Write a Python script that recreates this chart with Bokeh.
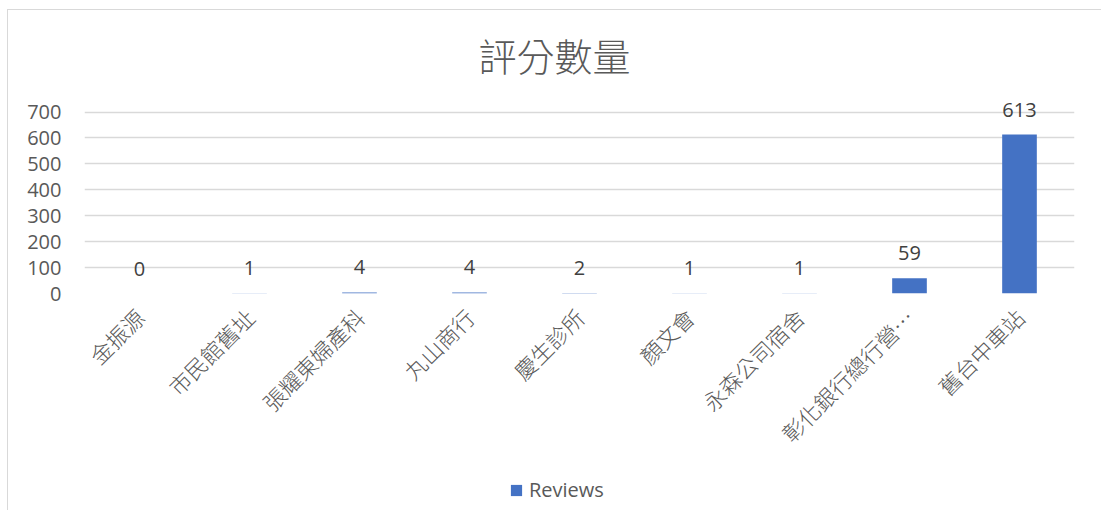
import math
from bokeh.plotting import figure
from bokeh.layouts import column
from bokeh.models import ColumnDataSource, FixedTicker, Legend, LegendItem, Range1d
from bokeh.core.properties import value
from bokeh.embed import file_html
from bokeh.resources import INLINE

categories = ["金振源", "市民館舊址", "張耀東婦產科", "丸山商行", "慶生診所",
              "顏文會", "永森公司宿舍", "彰化銀行總行營…", "舊台中車站"]
reviews = [0, 1, 4, 4, 2, 1, 1, 59, 613]
y_ticks = [0, 100, 200, 300, 400, 500, 600, 700]
series_name = "Reviews"
title_text = "評分數量"

CJK_LIGHT = "Noto Sans CJK TC Light, Noto Sans CJK TC, sans-serif"
BAR_COLOR = "#4472C4"

src = ColumnDataSource(dict(cat=categories, val=reviews, lbl=[str(v) for v in reviews]))

p = figure(x_range=categories, y_range=Range1d(0, 760), width=1093, height=460,
           output_backend="svg", toolbar_location=None,
           min_border_left=76, min_border_right=27, min_border_top=85, min_border_bottom=177)
p.outline_line_color = None
p.background_fill_color = "white"
p.border_fill_color = "white"

p.title.text = title_text
p.title.align = "left"
p.title.offset = 394
p.title.text_font = CJK_LIGHT
p.title.text_font_size = "38px"
p.title.text_font_style = "normal"
p.title.text_color = "#595959"
p.title.standoff = 29

bars = p.vbar(x="cat", top="val", width=0.315, source=src,
              fill_color=BAR_COLOR, line_color=None)
p.text(x="cat", y="val", text="lbl", source=src, text_align="center", text_baseline="middle",
       y_offset=-25, text_font_size="20px", text_color="#404040", text_font=value("Open Sans"))

p.xgrid.grid_line_color = None
p.ygrid.grid_line_color = "#d9d9d9"
p.ygrid.grid_line_width = 1.3
p.yaxis.ticker = FixedTicker(ticks=y_ticks)

for ax in (p.xaxis[0], p.yaxis[0]):
    ax.axis_line_color = None
    ax.major_tick_line_color = None
    ax.minor_tick_line_color = None
    ax.major_tick_out = 0
    ax.major_tick_in = 0
    ax.major_label_text_color = "#595959"

p.yaxis.major_label_text_font = "Open Sans"
p.yaxis.major_label_text_font_size = "20px"
p.yaxis.major_label_standoff = 23

p.xaxis.major_label_orientation = math.pi / 4
p.xaxis.major_label_text_font = CJK_LIGHT
p.xaxis.major_label_text_font_size = "22px"
p.xaxis.major_label_standoff = 19

# legend strip underneath the chart
q = figure(x_range=categories, y_range=Range1d(10000, 10001), width=1093, height=40,
           output_backend="svg", toolbar_location=None,
           min_border_left=0, min_border_right=0, min_border_top=0, min_border_bottom=0)
q.axis.visible = False
q.grid.grid_line_color = None
q.outline_line_color = None
q_bars = q.vbar(x="cat", top="val", width=0.315, source=src,
                fill_color=BAR_COLOR, line_color=None)
legend = Legend(items=[LegendItem(label=series_name, renderers=[q_bars])],
                location=(425, 7), orientation="horizontal",
                label_text_font="Open Sans", label_text_font_size="20px",
                label_text_color="#595959", glyph_width=14, glyph_height=14,
                label_standoff=6, padding=2, margin=0, border_line_color=None,
                background_fill_alpha=0)
q.add_layout(legend, "center")

layout = column(p, q, spacing=0,
                styles={"margin-left": "7px", "margin-top": "9px",
                        "border-left": "1px solid #d9d9d9", "border-top": "1px solid #d9d9d9"})

open("out.html", "w").write(file_html(layout, INLINE))
